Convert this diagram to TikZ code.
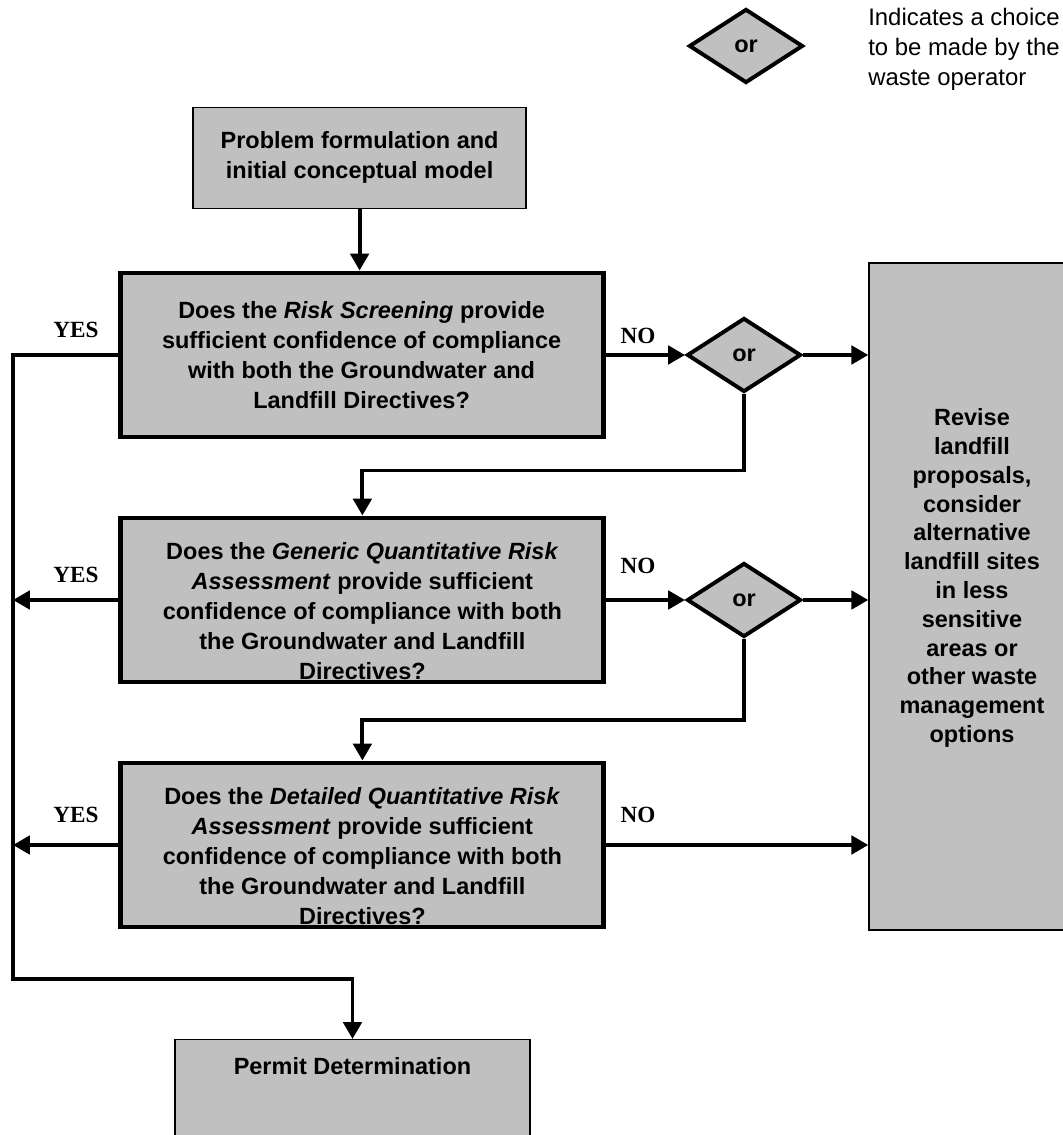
\documentclass[tikz,border=0pt]{standalone}
\usepackage{fontspec}
\setmainfont{Liberation Sans}
\newfontfamily\answerfont{Liberation Serif}
\usetikzlibrary{arrows.meta, positioning, shapes.geometric}
\definecolor{boxgray}{RGB}{192,192,192}
\tikzstyle{box} = [rectangle, 
draw=black, 
line width=1pt,
fill=boxgray,
align=center, 
font=\bfseries\fontsize{16.7}{21.3}\selectfont]
\tikzstyle{question} = [box, line width=3.5pt, minimum width=12.075cm, minimum height=4.1cm]
\tikzstyle{choice} = [diamond, draw=black, line width=2.8pt, fill=boxgray,
minimum width=2.85cm, minimum height=1.85cm, inner sep=0pt,
font=\bfseries\fontsize{16.7}{20}\selectfont]
\tikzstyle{arrow} = [-{Triangle[length=12pt, width=13pt]}, line width=2.8pt]
\tikzstyle{answer} = [font=\answerfont\bfseries\fontsize{16.5}{20}\selectfont]

\begin{document}
\begin{tikzpicture}
		
		% Canvas boundary
		\useasboundingbox (0,0) rectangle (26.55,28.375);
		
		% Legend
		\node[choice] (legor) at (18.65,27.225) {or};
		\node[align=left, anchor=west, inner sep=0pt, font=\fontsize{17}{21.3}\selectfont] (legtext) at (21.7,27.15) {
			Indicates a choice\\
			to be made by the\\
			waste operator
		};
		
		% Starting box
		\node[box, minimum width=8.325cm, minimum height=2.525cm] (prob) at (8.99,24.43) {
			Problem formulation and\\
			initial conceptual model
		};
		
		% Question boxes
		\node[question] (screen) at (9.04,19.5) {
			Does the \textit{Risk Screening} provide\\
			sufficient confidence of compliance\\
			with both the Groundwater and\\
			Landfill Directives?
		};
		\node[question, inner ysep=0pt, text height=3.97cm] (generic) at (9.06,13.375) {
			Does the \textit{Generic Quantitative Risk}\\
			\textit{Assessment} provide sufficient\\
			confidence of compliance with both\\
			the Groundwater and Landfill\\
			Directives?
		};
		\node[question, inner ysep=0pt, text height=3.97cm] (detailed) at (9.06,7.25) {
			Does the \textit{Detailed Quantitative Risk}\\
			\textit{Assessment} provide sufficient\\
			confidence of compliance with both\\
			the Groundwater and Landfill\\
			Directives?
		};
		
		% Choice diamonds
		\node[choice] (or1) at (18.6,19.5) {or};
		\node[choice] (or2) at (18.6,13.375) {or};
		
		% Revise box
		\node[box, minimum width=5.15cm, minimum height=16.675cm, text depth=1.05cm, font=\bfseries\fontsize{16.7}{20.5}\selectfont] (revise) at (24.3,13.46) {
			Revise\\ landfill\\ proposals,\\ consider\\ alternative\\ landfill sites\\
			in less\\ sensitive\\ areas or\\ other waste\\ management\\ options
		};
		
		% Permit box
		\node[box, anchor=north, minimum width=8.875cm, text height=0.75cm, text depth=3cm] (permit) at (8.8125,2.4) {Permit Determination};
		
		% YES / NO labels
		\node[answer] (yes1) at (1.9,20.125) {YES};
		\node[answer] (yes2) at (1.9,14.0) {YES};
		\node[answer] (yes3) at (1.9,8.0) {YES};
		\node[answer] (no1) at (15.95,19.975) {NO};
		\node[answer] (no2) at (15.95,14.225) {NO};
		\node[answer] (no3) at (15.95,8.0) {NO};
		
		% Connections
		\coordinate (lb) at (0.325,3.9);
		\draw[arrow] (prob.south) -- (prob.south |- screen.north);
		\draw[arrow] (screen.west) -| (lb) -| (permit.north);
		\draw[arrow] (generic.west) -- (generic.west -| lb);
		\draw[arrow] (detailed.west) -- (detailed.west -| lb);
		
		\draw[arrow] (screen.east) -- (or1.west);
		\draw[arrow] (or1.east) -- (or1.east -| revise.west);
		\draw[arrow] (or1.south) |- ([yshift=1.125cm]generic.north) -- (generic.north);
		
		\draw[arrow] (generic.east) -- (or2.west);
		\draw[arrow] (or2.east) -- (or2.east -| revise.west);
		\draw[arrow] (or2.south) |- ([yshift=1.025cm]detailed.north) -- (detailed.north);
		
		\draw[arrow] (detailed.east) -- (detailed.east -| revise.west);
		
	\end{tikzpicture}
\end{document}
